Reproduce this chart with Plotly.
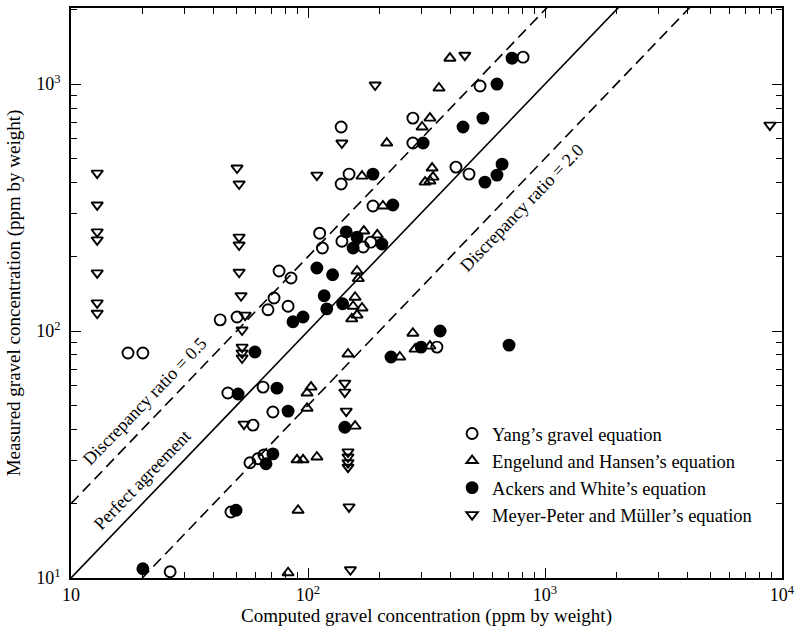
import plotly.graph_objects as go

# ---------------- data (ppm by weight) ----------------
yang_x = [17.4, 20.1, 26.2, 42.6, 50.2, 45.9, 47.3, 58.6, 56.9, 61.5, 65.2, 64.6, 71.1, 67.8,
          71.9, 82.4, 75.5, 84.8, 115, 112, 139, 171, 184, 138, 149, 138, 188, 277, 277,
          421, 478, 532, 808, 350]
yang_y = [81.5, 81.5, 10.6, 111, 114, 56.1, 18.5, 41.6, 29.3, 30.4, 31.5, 59.3, 47.0, 122,
          136, 126, 175, 164, 217, 249, 231, 219, 229, 394, 432, 670, 321, 728, 577,
          461, 432, 982, 1285, 86.1]

eh_x = [82.4, 90.8, 89.9, 95.3, 109, 158, 99.1, 99.1, 103, 147.5, 244, 277, 283, 327,
        158, 155, 169, 161, 153, 161, 163, 172, 196, 207, 169, 215, 303, 327, 334, 337,
        312, 327, 357, 397]
eh_y = [10.5, 18.8, 30.1, 30.1, 30.9, 41.2, 48.7, 56.1, 59.3, 80.7, 78.5, 98, 84.5, 86.9,
        137, 126, 124, 116, 112, 175, 163, 254, 245, 321, 424, 577, 670, 728, 457, 420,
        401, 405, 964, 1273]

aw_x = [20.1, 49.7, 66.5, 71.1, 50.7, 74.0, 82.4, 143, 59.7, 86.4, 95.3, 120, 140, 117,
        109, 127, 145, 161, 155, 205, 228, 188, 224, 306, 300, 361, 705, 451, 547, 627,
        726, 659, 627, 558]
aw_y = [10.9, 18.8, 29.0, 31.8, 55.6, 58.7, 47.4, 40.8, 82.2, 109, 114, 123, 129, 139,
        180, 169, 252, 240, 217, 225, 324, 432, 78.5, 577, 86.1, 100, 87.7, 670, 728, 1000,
        1273, 474, 428, 401]

mpm_x = [12.9, 12.9, 12.9, 12.9, 12.9, 12.9, 12.9,
         50.2, 51.2, 51.2, 51.2, 51.2, 52.2, 54.3, 52.7, 52.7, 52.7, 52.7, 53.7,
         109, 139, 192, 459, 143, 143, 145, 147.5, 147.5, 147.5, 147.5, 149, 151, 8890]
mpm_y = [436, 324, 252, 234, 172, 130, 118,
         457, 394, 240, 223, 173, 139, 116, 101, 86.1, 81.5, 77.8, 42.0,
         428, 577, 991, 1309, 61.5, 56.6, 47.4, 32.4, 30.9, 29.3, 28.1, 19.4, 10.8, 682]

series_names = ["Yang\u2019s gravel equation", "Engelund and Hansen\u2019s equation",
                "Ackers and White\u2019s equation", "Meyer-Peter and M\u00fcller\u2019s equation"]

# reference lines: measured = factor * computed
line_x = [10, 10000]
perfect_factor = 1.0
upper_factor = 2.0   # discrepancy ratio 0.5
lower_factor = 0.5   # discrepancy ratio 2.0

x_tickvals = [10, 100, 1000, 10000]
x_ticktext = ["10", "10<sup>2</sup>", "10<sup>3</sup>", "10<sup>4</sup>"]
y_tickvals = [10, 100, 1000]
y_ticktext = ["10<sup>1</sup>", "10<sup>2</sup>", "10<sup>3</sup>"]
minor_vals = [m * d for d in (10, 100, 1000) for m in range(2, 10)]

FONT = "Liberation Serif, Times New Roman, serif"

fig = go.Figure()

for f, dash in [(upper_factor, "11px,6px"), (perfect_factor, "solid"), (lower_factor, "11px,6px")]:
    fig.add_trace(go.Scatter(x=line_x, y=[v * f for v in line_x], mode="lines",
                             line=dict(color="black", width=1.6, dash=dash),
                             showlegend=False, hoverinfo="skip"))

marker_specs = [
    (yang_x, yang_y, "circle-open", 11),
    (eh_x, eh_y, "triangle-up-open", 10),
    (aw_x, aw_y, "circle", 11),
    (mpm_x, mpm_y, "triangle-down-open", 10),
]
for i, (xs, ys, sym, sz) in enumerate(marker_specs):
    fig.add_trace(go.Scatter(
        x=xs, y=ys, mode="markers", name=series_names[i], legendgroup=str(i),
        marker=dict(symbol=sym, size=sz, color="black",
                    line=dict(color="black", width=1.9)),
        cliponaxis=True))

ann_font = dict(family=FONT, size=18, color="black")
fig.add_annotation(x=1.312, y=1.717, xref="x", yref="y", text="Discrepancy ratio = 0.5",
                   textangle=-46, showarrow=False, font=ann_font)
fig.add_annotation(x=1.300, y=1.397, xref="x", yref="y", text="Perfect agreement",
                   textangle=-46, showarrow=False, font=ann_font)
fig.add_annotation(x=2.90, y=2.50, xref="x", yref="y", text="Discrepancy ratio = 2.0",
                   textangle=-46, showarrow=False, font=ann_font)

axis_common = dict(type="log", showgrid=False, zeroline=False, showline=True,
                   linecolor="black", linewidth=1.5, mirror="ticks", ticks="inside",
                   ticklen=10, tickwidth=1.3, tickcolor="black", automargin=False,
                   ticklabeloverflow="allow",
                   tickfont=dict(family=FONT, size=18, color="black"),
                   minor=dict(ticks="inside", ticklen=6, tickwidth=1.1, tickcolor="black",
                              tickvals=minor_vals, showgrid=False))

fig.update_layout(
    width=800, height=635,
    margin=dict(l=71, r=18, t=8, b=57),
    paper_bgcolor="white", plot_bgcolor="white",
    font=dict(family=FONT, color="black"),
    xaxis=dict(axis_common, range=[1, 4], tickvals=x_tickvals, ticktext=x_ticktext,
               title=dict(text="Computed gravel concentration (ppm by weight)",
                          font=dict(family=FONT, size=19), standoff=4)),
    yaxis=dict(axis_common, range=[1, 3.308], tickvals=y_tickvals, ticktext=y_ticktext,
               ticklabelstandoff=5,
               title=dict(text="Measured gravel concentration (ppm by weight)",
                          font=dict(family=FONT, size=19), standoff=11)),
    legend=dict(x=0.536, y=0.286, xanchor="left", yanchor="top", bgcolor="rgba(0,0,0,0)",
                font=dict(family=FONT, size=18.5, color="black"), tracegroupgap=0,
                itemwidth=30),
    showlegend=True,
)

fig.write_html("out.html", config={"displayModeBar": False},
               post_script="document.body.style.margin='0';document.body.style.overflow='hidden';")
